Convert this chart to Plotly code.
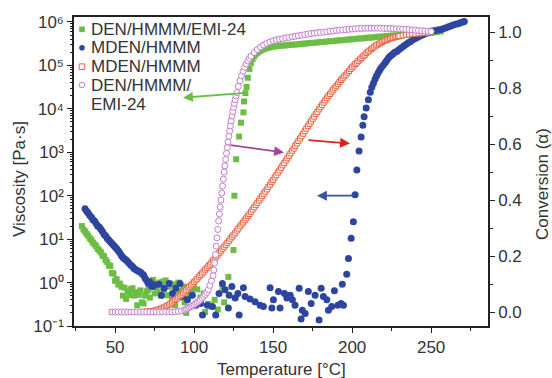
import plotly.graph_objects as go

# ---------------- data ----------------
# DEN/HMMM/EMI-24 viscosity [Pa.s] (green squares, left axis)
green_T = [29, 30, 31, 32, 33, 34, 35, 36, 37, 38, 39, 40, 41, 42, 43, 44, 45, 46, 47, 48,
           49, 50, 51, 52, 53, 54, 55, 56, 57, 58, 59, 60, 61, 62, 63, 64, 65, 66, 67, 68,
           69, 70, 71, 72, 73, 74, 75, 76, 77, 78, 79, 80, 81, 82, 83, 84, 85, 86, 87, 88,
           89, 90, 91, 92, 93, 94, 95, 96, 97, 98, 100, 102, 104, 106, 107, 109, 111, 113, 115, 118,
           119, 121.7, 124.9, 125.5, 126.6, 128.5, 129.7, 131.2, 131.6, 132.5, 133.2, 134, 135, 136, 137, 138,
           139, 140, 141, 142, 143, 144, 145, 146, 147, 148,
           150, 152, 154, 156, 158, 160, 162, 164, 166, 168,
           170, 172, 174, 176, 178, 180, 182, 184, 186, 188,
           190, 192, 194, 196, 198, 200, 202, 204, 206, 208,
           210, 212, 214, 216, 218, 220, 222, 224, 226, 228,
           230, 232, 234, 236, 238, 240, 242, 244, 246, 248,
           250, 252, 254, 256]
green_v = [20, 16.6, 15, 13.2, 12, 10.5, 9.5, 8.3, 7.6, 6.9, 6.0, 5.5, 5.0, 4.2, 4.0, 3.3, 3.0, 2.5, 2.4, 1.66,
           1.6, 1.1, 1.2, 0.9, 0.95, 0.8, 0.5, 0.76, 0.42, 0.63, 0.52, 0.7, 0.74, 0.5, 0.6, 0.3, 0.52, 0.66, 0.35, 0.33,
           0.5, 0.63, 0.68, 0.45, 0.9, 1.15, 0.56, 0.8, 0.62, 1.0, 0.5, 1.05, 0.7, 1.12, 0.51, 0.8, 0.95, 0.4, 0.9, 0.3,
           0.63, 1.0, 0.45, 0.62, 0.8, 0.35, 0.2, 0.8, 0.5, 0.62, 0.74, 0.7, 0.45, 0.56, 0.21, 0.32, 0.28, 0.4, 0.24, 0.8,
           0.35, 1.35, 5.6, 100, 690, 2300, 4800, 8300, 1.48e4, 2.3e4, 3.2e4, 5.2e4, 8.3e4, 1.15e5, 1.41e5, 1.62e5,
           1.82e5, 1.95e5, 2.09e5, 2.19e5, 2.29e5, 2.40e5, 2.45e5, 2.51e5, 2.57e5, 2.63e5,
           2.69e5, 2.75e5, 2.82e5, 2.88e5, 2.88e5, 2.95e5, 3.02e5, 3.02e5, 3.09e5, 3.16e5,
           3.16e5, 3.24e5, 3.31e5, 3.31e5, 3.39e5, 3.47e5, 3.47e5, 3.55e5, 3.63e5, 3.63e5,
           3.72e5, 3.80e5, 3.80e5, 3.89e5, 3.98e5, 3.98e5, 4.07e5, 4.17e5, 4.17e5, 4.27e5,
           4.37e5, 4.37e5, 4.47e5, 4.57e5, 4.57e5, 4.68e5, 4.79e5, 4.79e5, 4.90e5, 4.90e5,
           5.01e5, 5.01e5, 5.13e5, 5.13e5, 5.25e5, 5.25e5, 5.37e5, 5.37e5, 5.50e5, 5.50e5,
           5.62e5, 5.75e5, 5.89e5, 6.03e5]

# MDEN/HMMM viscosity [Pa.s] (blue circles, left axis)
blue_T = [31, 32, 33, 34, 35, 36, 37, 38, 39, 40, 41, 42, 43, 44, 45, 46, 47, 48, 49, 50,
          51, 52, 53, 54, 55, 56, 57, 58, 59, 60, 61, 62, 63, 64, 65, 66, 67, 68, 69, 70,
          71, 72, 73, 74, 75,
          77.8, 79.3, 81, 84.2, 86.3, 88.4, 91.1, 92.6, 95.8, 98.9, 101.1, 104.2, 105.3, 108.4, 111.6, 113.7,
          115.8, 117.9, 119.6, 121.7, 122.2, 123.9, 126, 127.7, 128.5, 131.2, 132.3, 135.4, 138.6, 141.8, 143.9,
          148.1, 149.2, 150.2, 153.4, 154.4, 157.2, 158.7, 160.8, 162.2, 163.9, 166.5, 167.7, 168.5, 170.3,
          172.3, 174.1, 176.6, 179.1, 180.4, 181.8, 184, 185, 187.1, 188.8, 191, 193, 193.8, 194.5,
          196.6, 197.7, 199.4, 200.8, 201.9, 203, 204.4, 205.7, 206.8, 207.6, 208.9, 210.3,
          211.5, 212.5, 213.5, 214.5, 215.5, 216.5, 217.5, 218.5, 219.8, 221, 222, 223, 224, 225, 226, 227,
          228.3, 229.5, 231, 232.5, 234, 235.5, 237, 238.5, 240, 241.5, 243, 244.5, 246, 247.5, 249, 250.5,
          252, 253.5, 255, 256.5, 258, 259.5, 261, 262.5, 264, 265.5, 267, 268.5, 270, 271]
blue_v = [50, 44, 40, 35, 32, 28, 26, 23, 20, 19, 17, 15, 13, 12, 10.5, 9.5, 8.7, 7.9, 7.2, 6.6,
          6.0, 5.4, 4.8, 4.2, 3.8, 3.5, 3.3, 3.0, 2.75, 2.5, 2.35, 2.1, 2.0, 1.9, 1.8, 1.74, 1.6, 1.5, 1.26, 1.12,
          0.95, 1.05, 0.83, 0.81, 0.89,
          0.91, 0.51, 0.74, 0.95, 0.56, 0.74, 0.95, 0.48, 0.40, 0.51, 0.30, 0.33, 0.18, 0.30, 0.28, 0.18,
          0.56, 0.95, 0.68, 0.26, 0.51, 0.81, 0.44, 0.56, 0.18, 0.76, 0.48, 0.42, 0.36, 0.30, 0.28,
          0.76, 0.26, 0.40, 0.62, 0.26, 0.56, 0.44, 0.51, 0.40, 0.30, 0.74, 0.145, 0.23, 0.195,
          0.62, 0.33, 0.51, 0.138, 0.74, 0.48, 0.40, 0.23, 0.28, 0.65, 0.30, 0.33, 0.91, 0.30,
          1.55, 3.6, 10.5, 25, 105, 390, 1070, 2240, 4170, 6600, 1.05e4, 1.62e4,
          2.4e4, 3.16e4, 3.9e4, 4.8e4, 5.75e4, 6.8e4, 7.8e4, 8.9e4, 1.02e5, 1.17e5, 1.32e5, 1.48e5, 1.62e5, 1.74e5, 1.86e5, 2.0e5,
          2.09e5, 2.29e5, 2.51e5, 2.75e5, 3.02e5, 3.31e5, 3.55e5, 3.89e5, 4.17e5, 4.47e5, 4.79e5, 5.01e5, 5.37e5, 5.62e5, 5.89e5, 6.17e5,
          6.31e5, 6.46e5, 6.61e5, 6.76e5, 7.08e5, 7.41e5, 7.76e5, 8.13e5, 8.51e5, 8.91e5, 9.12e5, 9.55e5, 1.0e6, 1.02e6]

# MDEN/HMMM conversion (red open squares, right axis)
red_T = [48, 50, 52, 54, 56, 58, 60, 62, 64, 66, 68, 70, 72, 74,
         75, 76, 77, 78, 79, 80, 81, 82, 83, 84, 85, 86, 87, 88, 89, 90, 91, 92, 93, 94,
         95, 96, 97, 98, 99, 100, 101, 102, 103, 104, 105, 106, 107, 108, 109, 110, 111, 112, 113, 114,
         115, 116, 117, 118, 119, 120, 121, 122, 123, 124, 125, 126, 127, 128, 129, 130, 131, 132, 133, 134,
         135, 136, 137, 138, 139, 140, 141, 142, 143, 144, 145, 146, 147, 148, 149, 150, 151, 152, 153, 154,
         155, 156, 157, 158, 159, 160, 161, 162, 163, 164, 165, 166, 167, 168, 169, 170, 171, 172, 173, 174,
         175, 176, 177, 178, 179, 180, 181, 182, 183, 184, 185, 186, 187, 188, 189, 190, 191, 192, 193, 194,
         195, 196, 197, 198, 199, 200, 201, 202, 203, 204, 205, 206, 207, 208, 209, 210, 211, 212, 213, 214,
         215, 216, 217, 218, 219, 220, 221, 222, 223, 224, 225, 226, 227, 228, 229, 230,
         232, 234, 236, 238, 240, 242, 244, 246, 248]
red_a = [0, 0, 0, 0, 0, 0, 0, 0, 0, 0, 0.001, 0.002, 0.003, 0.004,
         0.005, 0.006, 0.008, 0.010, 0.012, 0.014, 0.017, 0.020, 0.023, 0.026, 0.030, 0.034, 0.038, 0.043, 0.047, 0.052, 0.057, 0.062, 0.067, 0.073,
         0.078, 0.084, 0.090, 0.095, 0.101, 0.107, 0.113, 0.119, 0.126, 0.132, 0.138, 0.144, 0.151, 0.157, 0.164, 0.170, 0.177, 0.184, 0.191, 0.198,
         0.205, 0.212, 0.219, 0.226, 0.233, 0.240, 0.247, 0.254, 0.262, 0.269, 0.276, 0.283, 0.291, 0.298, 0.306, 0.313, 0.320, 0.328, 0.335, 0.343,
         0.350, 0.358, 0.366, 0.374, 0.382, 0.390, 0.398, 0.406, 0.414, 0.422, 0.430, 0.438, 0.447, 0.455, 0.464, 0.472, 0.481, 0.489, 0.498, 0.506,
         0.515, 0.524, 0.532, 0.541, 0.549, 0.558, 0.567, 0.576, 0.584, 0.593, 0.602, 0.611, 0.620, 0.628, 0.637, 0.646, 0.655, 0.664, 0.672, 0.681,
         0.690, 0.698, 0.707, 0.715, 0.724, 0.732, 0.740, 0.748, 0.756, 0.764, 0.772, 0.779, 0.787, 0.794, 0.801, 0.808, 0.815, 0.822, 0.829, 0.835,
         0.842, 0.848, 0.855, 0.861, 0.868, 0.874, 0.880, 0.886, 0.891, 0.897, 0.903, 0.908, 0.914, 0.919, 0.925, 0.930, 0.934, 0.939, 0.943, 0.948,
         0.952, 0.955, 0.958, 0.962, 0.965, 0.968, 0.970, 0.972, 0.975, 0.977, 0.979, 0.980, 0.982, 0.983, 0.985, 0.986,
         0.988, 0.990, 0.991, 0.993, 0.994, 0.995, 0.996, 0.997, 0.998]

# DEN/HMMM/EMI-24 conversion (purple open circles, right axis)
purple_T = [48, 50, 52, 54, 56, 58, 60, 62, 64, 66, 68, 70, 72, 74, 76, 78, 80, 82, 84, 86, 88, 90, 92, 94,
            95, 96, 97, 98, 99, 100, 101, 102, 103, 104, 105, 106, 107, 108, 109, 110, 111, 112,
            112.5, 113, 113.5, 114, 114.5, 115, 115.5, 116, 116.5, 117, 117.5, 118, 118.5, 119, 119.5,
            120, 120.5, 121, 121.5, 122, 122.5, 123, 123.5, 124, 124.5, 125, 125.5, 126, 126.5, 127,
            128, 129, 130, 131, 132, 133, 134, 135, 136,
            138, 140, 142, 144, 146, 148, 150,
            152, 154, 156, 158, 160, 162, 164, 166, 168, 170,
            172, 174, 176, 178, 180, 182, 184, 186, 188, 190,
            192, 194, 196, 198, 200, 202, 204, 206, 208, 210,
            212, 214, 216, 218, 220, 222, 224, 226, 228, 230,
            232, 234, 236, 238, 240, 242, 244, 246, 248, 250]
purple_a = [0, 0, 0, 0, 0, 0, 0, 0, 0, 0, 0, 0, 0, 0, 0, 0, 0, 0, 0, 0, 0.001, 0.002, 0.004, 0.007,
            0.010, 0.013, 0.016, 0.019, 0.022, 0.026, 0.030, 0.034, 0.038, 0.043, 0.049, 0.055, 0.062, 0.070, 0.080, 0.095, 0.112, 0.130,
            0.150, 0.175, 0.205, 0.235, 0.265, 0.295, 0.325, 0.350, 0.375, 0.400, 0.425, 0.450, 0.475, 0.500, 0.522,
            0.545, 0.567, 0.588, 0.608, 0.628, 0.647, 0.665, 0.683, 0.700, 0.716, 0.731, 0.745, 0.759, 0.772, 0.784,
            0.806, 0.826, 0.844, 0.860, 0.874, 0.886, 0.897, 0.906, 0.914,
            0.927, 0.938, 0.947, 0.954, 0.960, 0.965, 0.969,
            0.972, 0.975, 0.977, 0.979, 0.981, 0.983, 0.985, 0.987, 0.989, 0.991,
            0.993, 0.995, 0.996, 0.998, 0.999, 1.000, 1.001, 1.003, 1.004, 1.006,
            1.007, 1.008, 1.009, 1.010, 1.011, 1.012, 1.013, 1.013, 1.014, 1.014,
            1.014, 1.014, 1.014, 1.014, 1.013, 1.013, 1.013, 1.012, 1.012, 1.011,
            1.011, 1.010, 1.009, 1.008, 1.007, 1.006, 1.005, 1.004, 1.003, 1.002]

series_names = ["DEN/HMMM/EMI-24", "MDEN/HMMM", "MDEN/HMMM", "DEN/HMMM/EMI-24"]
legend_lines = ["DEN/HMMM/EMI-24", "MDEN/HMMM", "MDEN/HMMM", "DEN/HMMM/", "EMI-24"]
x_ticks = [50, 100, 150, 200, 250]
y_ticks = [0.1, 1, 10, 100, 1e3, 1e4, 1e5, 1e6]
y_ticktext = ["10⁻¹", "10⁰", "10¹", "10²", "10³", "10⁴", "10⁵", "10⁶"]
y2_ticks = [0.0, 0.2, 0.4, 0.6, 0.8, 1.0]

# ---------------- styling ----------------
GREEN = "#6cbd45"
BLUE = "#2e45a0"
RED = "#e8613f"
PURPLE = "#c47ccd"
AX = "#222222"
TXT = "#333333"
FONT = "Liberation Sans, Arial, sans-serif"
FS = 17

fig = go.Figure()
fig.add_trace(go.Scatter(x=green_T, y=green_v, mode="markers", name=series_names[0],
                         marker=dict(symbol="square", size=6, color=GREEN, line=dict(width=0)),
                         yaxis="y"))
fig.add_trace(go.Scatter(x=blue_T, y=blue_v, mode="markers", name=series_names[1],
                         marker=dict(symbol="circle", size=7, color=BLUE, line=dict(width=0)),
                         yaxis="y"))
fig.add_trace(go.Scatter(x=red_T, y=red_a, mode="markers", name=series_names[2],
                         marker=dict(symbol="square", size=5, color="white", line=dict(width=1, color=RED)),
                         yaxis="y2"))
fig.add_trace(go.Scatter(x=purple_T, y=purple_a, mode="markers", name=series_names[3],
                         marker=dict(symbol="circle", size=6, color="white", line=dict(width=1, color=PURPLE)),
                         yaxis="y2"))

L, R, T, B = 74, 64, 17, 52
W, H = 552, 378
PW, PH = W - L - R, H - T - B


def px(xp):
    return (xp - L) / PW


def py(yp):
    return (H - B - yp) / PH


annotations = []
shapes = []

# custom legend (symbols as shapes, labels as text)
leg_marker_rows = [29.3, 47.7, 66.7, 85.0]
leg_text_rows = [29.3, 47.7, 66.7, 85.5, 105.0]
leg_styles = [("rect", GREEN, GREEN), ("circle", BLUE, BLUE), ("rect", "white", RED), ("circle", "white", PURPLE)]
mx = 82
hs = 2.8
for (kind, fill, line), yr in zip(leg_styles, leg_marker_rows):
    shapes.append(dict(type=kind, xref="paper", yref="paper",
                       x0=px(mx - hs), x1=px(mx + hs), y0=py(yr + hs), y1=py(yr - hs),
                       fillcolor=fill, line=dict(color=line, width=1 if fill == "white" else 0),
                       layer="above"))
for name, yt in zip(legend_lines, leg_text_rows):
    annotations.append(dict(text=name, xref="paper", yref="paper", x=px(90), y=py(yt),
                            xanchor="left", yanchor="middle", align="left", showarrow=False,
                            borderpad=0, font=dict(size=FS, color=TXT, family=FONT)))

# arrows (head position, tail position in pixels)
arrows = [((183, 97.7), (247, 92.7), "#6cbd45"),
          ((284, 152.5), (229, 145), "#a1459f"),
          ((350, 143.5), (307, 140), "#d9261c"),
          ((317, 195.7), (356, 195.7), "#3553a8")]
for (hx, hy), (tx, ty), col in arrows:
    annotations.append(dict(text="", xref="paper", yref="paper", x=px(hx), y=py(hy),
                            ax=tx - hx, ay=ty - hy, showarrow=True, arrowhead=2,
                            arrowsize=1.1, arrowwidth=1.8, arrowcolor=col, standoff=0, startstandoff=0))

# axis titles
annotations.append(dict(text="Viscosity [Pa·s]", xref="paper", yref="paper", x=px(19), y=py(179),
                        textangle=-90, showarrow=False, xanchor="center", yanchor="middle",
                        font=dict(size=FS, color=TXT, family=FONT)))
annotations.append(dict(text="Conversion (α)", xref="paper", yref="paper", x=px(542), y=py(184),
                        textangle=-90, showarrow=False, xanchor="center", yanchor="middle",
                        font=dict(size=FS, color=TXT, family=FONT)))
annotations.append(dict(text="Temperature [°C]", xref="paper", yref="paper", x=0.5, y=py(369),
                        showarrow=False, xanchor="center", yanchor="middle", borderpad=0,
                        font=dict(size=FS, color=TXT, family=FONT)))

fig.update_layout(
    width=W, height=H, margin=dict(l=L, r=R, t=T, b=B, pad=0),
    plot_bgcolor="white", paper_bgcolor="white", showlegend=False,
    font=dict(family=FONT, size=FS, color=TXT),
    xaxis=dict(range=[24, 286], tickvals=x_ticks, ticks="outside", ticklen=5, tickwidth=1.2,
               tickcolor=AX, showline=True, linecolor=AX, linewidth=1.5, mirror=True,
               showgrid=False, zeroline=False, tickfont=dict(size=FS, color=TXT),
               minor=dict(dtick=25, tick0=0, ticks="outside", ticklen=3, tickwidth=1, tickcolor=AX, showgrid=False)),
    yaxis=dict(type="log", range=[-1, 6.115], tickvals=y_ticks, ticktext=y_ticktext,
               ticks="outside", ticklen=5, tickwidth=1.2, tickcolor=AX,
               showline=True, linecolor=AX, linewidth=1.5, showgrid=False, zeroline=False,
               tickfont=dict(size=FS, color=TXT),
               minor=dict(dtick="D1", ticks="outside", ticklen=2, tickwidth=1, tickcolor=AX, showgrid=False)),
    yaxis2=dict(overlaying="y", side="right", anchor="x", range=[-0.05, 1.054],
                tickvals=y2_ticks, tickformat=".1f", ticks="outside", ticklen=5, tickwidth=1.2,
                tickcolor=AX, showline=True, linecolor=AX, linewidth=1.5, showgrid=False,
                zeroline=False, tickfont=dict(size=FS, color=TXT),
                minor=dict(dtick=0.1, tick0=0, ticks="outside", ticklen=3, tickwidth=1, tickcolor=AX, showgrid=False)),
    annotations=annotations, shapes=shapes,
)

fig.write_html("out.html")
